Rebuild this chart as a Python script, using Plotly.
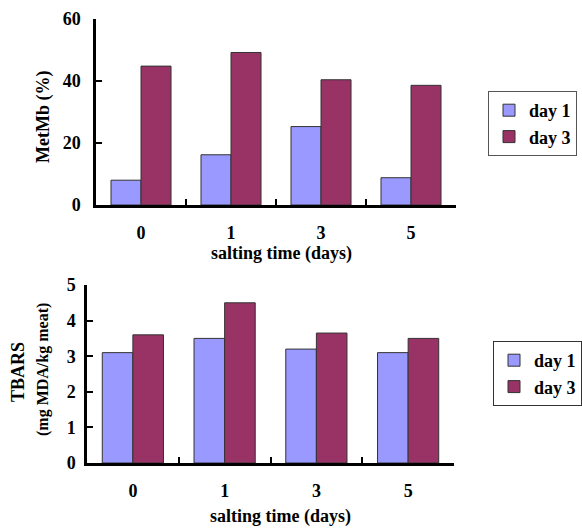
import plotly.graph_objects as go

categories = ["0", "1", "3", "5"]
metmb_day1 = [8.0, 16.2, 25.3, 8.8]
metmb_day3 = [44.8, 49.2, 40.4, 38.6]
tbars_day1 = [3.1, 3.5, 3.2, 3.1]
tbars_day3 = [3.6, 4.5, 3.65, 3.5]
series_names = ["day 1", "day 3"]
metmb_ticks = [0, 20, 40, 60]
tbars_ticks = [0, 1, 2, 3, 4, 5]

C1 = "#9999FF"
C3 = "#993366"
FONT = "Liberation Serif"
W, H = 582, 529

fig = go.Figure()
bar_line = dict(color="#333333", width=1)
fig.add_trace(go.Bar(x=categories, y=metmb_day1, name=series_names[0], marker=dict(color=C1, line=bar_line),
                     xaxis="x", yaxis="y", legend="legend"))
fig.add_trace(go.Bar(x=categories, y=metmb_day3, name=series_names[1], marker=dict(color=C3, line=bar_line),
                     xaxis="x", yaxis="y", legend="legend"))
fig.add_trace(go.Bar(x=categories, y=tbars_day1, name=series_names[0], marker=dict(color=C1, line=bar_line),
                     xaxis="x2", yaxis="y2", legend="legend2"))
fig.add_trace(go.Bar(x=categories, y=tbars_day3, name=series_names[1], marker=dict(color=C3, line=bar_line),
                     xaxis="x2", yaxis="y2", legend="legend2"))

tickfont = dict(family=FONT, size=18, color="black", weight="bold")

def xax(domain, anchor):
    return dict(domain=domain, anchor=anchor, type="category", showline=True, linewidth=2.5,
                linecolor="black", ticks="inside", tickson="boundaries", ticklen=6, tickwidth=2,
                tickcolor="black", showgrid=False, tickfont=tickfont, ticklabelstandoff=10,
                zeroline=False, automargin=False)

def yax(domain, anchor, rng, ticks, standoff):
    return dict(domain=domain, anchor=anchor, range=rng, tickvals=ticks, showline=True, linewidth=2.5,
                linecolor="black", ticks="inside", ticklen=6, tickwidth=2, tickcolor="black",
                showgrid=False, zeroline=False, tickfont=tickfont, ticklabelstandoff=standoff,
                automargin=False)

legfont = dict(family=FONT, size=18, color="black", weight="bold")

fig.update_layout(
    width=W, height=H, margin=dict(l=0, r=0, t=0, b=0, autoexpand=False),
    paper_bgcolor="white", plot_bgcolor="white",
    barmode="group", bargap=0.333, bargroupgap=0,
    xaxis=xax([96 / W, 456 / W], "y"),
    yaxis=yax([1 - 205 / H, 1 - 19 / H], "x", [0, 60], metmb_ticks, 9),
    xaxis2=xax([87 / W, 454 / W], "y2"),
    yaxis2=yax([1 - 463 / H, 1 - 285 / H], "x2", [0, 5], tbars_ticks, 5),
    legend=dict(x=488 / W, y=1 - 91 / H, xanchor="left", yanchor="top", bordercolor="#555555",
                borderwidth=1, font=legfont, bgcolor="white", tracegroupgap=0),
    legend2=dict(x=493 / W, y=1 - 341 / H, xanchor="left", yanchor="top", bordercolor="#333333",
                 borderwidth=1, font=legfont, bgcolor="white", tracegroupgap=0),
    showlegend=True,
)

annot_font = dict(family=FONT, size=18, color="black", weight="bold")
fig.add_annotation(text="salting time (days)", x=281 / W, y=1 - 253 / H, xref="paper", yref="paper",
                   showarrow=False, font=annot_font, xanchor="center", yanchor="middle")
fig.add_annotation(text="salting time (days)", x=280 / W, y=1 - 516 / H, xref="paper", yref="paper",
                   showarrow=False, font=annot_font, xanchor="center", yanchor="middle")
fig.add_annotation(text="MetMb (%)", x=43 / W, y=1 - 117 / H, xref="paper", yref="paper",
                   showarrow=False, font=dict(family=FONT, size=18, color="black", weight="bold"),
                   textangle=-90, xanchor="center", yanchor="middle")
fig.add_annotation(text="TBARS", x=18 / W, y=1 - 372 / H, xref="paper", yref="paper",
                   showarrow=False, font=dict(family=FONT, size=18, color="black", weight="bold"),
                   textangle=-90, xanchor="center", yanchor="middle")
fig.add_annotation(text="(mg MDA/kg meat)", x=43 / W, y=1 - 370 / H, xref="paper", yref="paper",
                   showarrow=False, font=dict(family=FONT, size=16, color="black", weight="bold"),
                   textangle=-90, xanchor="center", yanchor="middle")

fig.write_html("out.html")
